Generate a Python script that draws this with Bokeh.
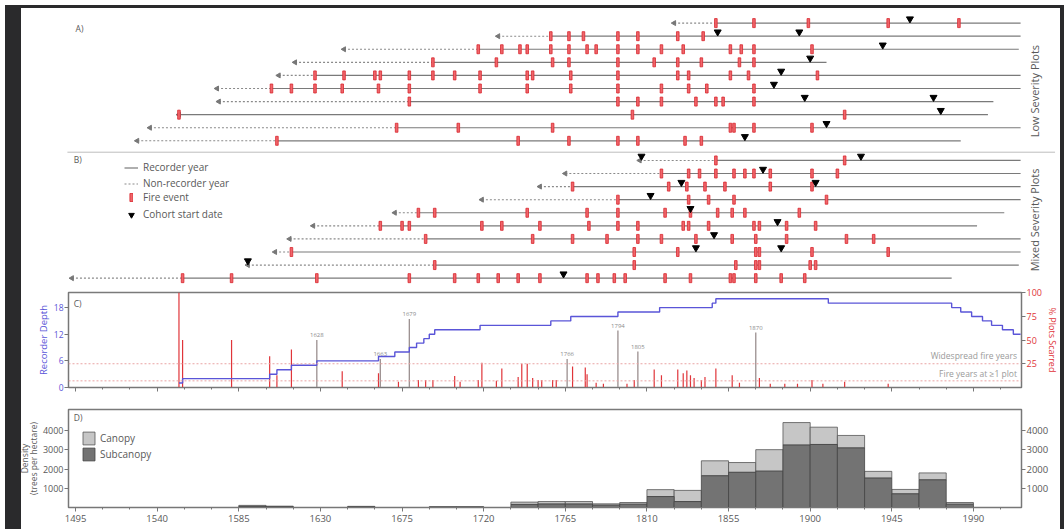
import math
from bokeh.plotting import figure
from bokeh.models import (Range1d, LinearAxis, FixedTicker, Legend, LegendItem,
                          ColumnDataSource, Label, Span, Div)
from bokeh.layouts import column
from bokeh.embed import file_html
from bokeh.resources import INLINE
from bokeh.core.properties import value

# ---------------- data ----------------
tick_years = [1495, 1540, 1585, 1630, 1675, 1720, 1765, 1810, 1855, 1900, 1945, 1990]
minor_tick_years = [1510, 1525, 1555, 1570, 1600, 1615, 1645, 1660, 1690, 1705, 1735, 1750,
                    1780, 1795, 1825, 1840, 1870, 1885, 1915, 1930, 1960, 1975, 2005]

# Panel A (low severity plots), top to bottom
a_inner = [1825, 1728, 1643, 1616, 1607, 1573, 1574, 1552, 1536, 1529]
a_recorder = [1848, 1757, 1717, 1692, 1627, 1603, 1679, 1552, 1672, 1606]
a_outer = [2016, 2016, 2015, 1909, 2016, 2016, 2001, 1998, 2016, 1983]
a_fires = [
    [1848, 1869, 1899, 1943, 1982],
    [1757, 1767, 1775, 1794, 1805, 1827, 1841],
    [1717, 1730, 1740, 1744, 1757, 1767, 1777, 1782, 1794, 1805, 1818, 1830, 1856, 1862, 1869, 1901],
    [1692, 1727, 1758, 1767, 1794, 1814, 1827, 1840, 1861, 1869],
    [1627, 1643, 1660, 1663, 1679, 1692, 1704, 1718, 1744, 1747, 1768, 1794, 1827, 1833, 1856, 1866, 1904],
    [1603, 1614, 1627, 1642, 1662, 1679, 1718, 1744, 1768, 1794, 1818, 1833, 1843, 1869],
    [1679, 1794, 1805, 1818, 1837, 1848, 1852, 1869],
    [1552, 1802, 1919],
    [1672, 1706, 1758, 1856, 1858, 1869, 1901],
    [1606, 1739, 1767, 1794, 1805, 1831, 1840],
]
a_cohort = [[1955], [1849, 1894], [1940], [1900], [1884], [1880], [1897, 1968], [1972], [1909], [1864]]

# Panel B (mixed severity plots), top to bottom
b_inner = [1806, 1765, 1751, 1719, 1671, 1626, 1613, 1605, 1590, 1493]
b_recorder = [1848, 1818, 1769, 1794, 1684, 1663, 1688, 1614, 1693, 1554]
b_outer = [2016, 2016, 2016, 2016, 2007, 1992, 2016, 2016, 2015, 1978]
b_fires = [
    [1848, 1919],
    [1818, 1833, 1839, 1848, 1858, 1864, 1869, 1878, 1901, 1915],
    [1769, 1822, 1832, 1842, 1853, 1878, 1901],
    [1794, 1833, 1844, 1858, 1909],
    [1684, 1693, 1744, 1777, 1794, 1820, 1834, 1849, 1857, 1864, 1894],
    [1663, 1675, 1679, 1719, 1730, 1751, 1778, 1794, 1805, 1830, 1833, 1844, 1869, 1872, 1887, 1903],
    [1688, 1747, 1769, 1788, 1805, 1818, 1837, 1857, 1870, 1887, 1920, 1935],
    [1614, 1803, 1827, 1870, 1872, 1901, 1943],
    [1693, 1803, 1859, 1870, 1872, 1900, 1903],
    [1554, 1581, 1628, 1679, 1704, 1717, 1728, 1739, 1751, 1777, 1783, 1792, 1798, 1820, 1834,
     1856, 1858, 1870, 1884, 1897],
]
b_cohort = [[1807, 1928], [1874], [1829, 1903], [1812], [1834], [1882], [1847], [1837, 1884], [1590], [1764]]

# Panel C: recorder depth and percent of plots scarred
depth_years = [1552, 1554, 1602, 1606, 1614, 1628, 1662, 1671, 1679, 1683, 1687, 1690, 1693,
               1718, 1757, 1768, 1794, 1817, 1846, 1848, 1910, 1978, 1983, 1989, 1995, 2000,
               2006, 2012, 2016]
depth_values = [1, 2, 3, 4, 5, 6, 7, 8, 9, 10, 11, 12, 13, 14, 15, 16, 17, 18, 19, 20, 19,
                18, 17, 16, 15, 14, 13, 12, 12]
scar_years = [1552, 1554, 1581, 1602, 1606, 1614, 1642, 1662, 1673, 1684, 1688, 1692, 1704,
              1707, 1717, 1719, 1727, 1730, 1739, 1741, 1744, 1747, 1750, 1752, 1758, 1760,
              1769, 1776, 1777, 1782, 1786, 1799, 1803, 1814, 1818, 1827, 1830, 1832, 1834,
              1836, 1840, 1842, 1848, 1857, 1861, 1872, 1878, 1886, 1893, 1901, 1907, 1919, 1943]
scar_pct = [100, 50, 50, 33, 13, 40, 17, 15, 6, 8, 8, 8, 12,
            6, 8, 26, 7, 20, 11, 25, 25, 10, 8, 8, 8, 8,
            22, 21, 14, 5, 4, 4, 8, 19, 13, 19, 15, 18, 13,
            10, 8, 11, 20, 13, 5, 10, 4, 4, 4, 8, 4, 6, 4]
key_years = [1628, 1663, 1679, 1766, 1794, 1805, 1870]
key_pct = [50, 30, 72, 30, 60, 38, 58]
key_labels = ["1628", "1663", "1679", "1766", "1794", "1805", "1870"]
widespread_pct = 25
min_fire_pct = 7

# Panel D: tree establishment density (15-year bins)
bin_start = [1585, 1600, 1645, 1690, 1705, 1735, 1750, 1765, 1780, 1795, 1810, 1825, 1840,
             1855, 1870, 1885, 1900, 1915, 1930, 1945, 1960, 1975]
canopy_total = [110, 70, 60, 40, 40, 280, 310, 310, 190, 260, 930, 890, 2430,
                2340, 3010, 4420, 4180, 3750, 1880, 940, 1800, 260]
subcanopy = [60, 40, 30, 20, 20, 160, 180, 180, 120, 170, 570, 310, 1650,
             1830, 1890, 3250, 3280, 3100, 1530, 710, 1440, 170]
bin_width = 15

# ---------------- styling / layout ----------------
FONT = "Open Sans"
TXT = "#595959"
RED = "#e0353a"
BLUE = "#5a55d8"
GRAY_LINE = "#8a8a8a"
LB = 68
RB = 40
FRAME_W = 953
X0, X1 = 1491.1, 2016.5
PPY = FRAME_W / (X1 - X0)
X_RANGE = Range1d(X0, X1)
AB_H = 284


def base_fig(height, frame_h, top, bottom, **kw):
    p = figure(frame_width=FRAME_W, frame_height=frame_h, height=height,
               x_range=X_RANGE, min_border_left=LB, min_border_right=RB,
               min_border_top=top, min_border_bottom=bottom,
               toolbar_location=None, output_backend="svg", **kw)
    p.grid.visible = False
    return p


# ---------------- panels A and B ----------------
pab = figure(width=LB + FRAME_W + RB, height=AB_H,
             x_range=Range1d(X0 - LB / PPY, X1 + RB / PPY),
             y_range=Range1d(19.985, -1.728), x_axis_type=None, y_axis_type=None,
             min_border=0, toolbar_location=None, output_backend="svg")
pab.frame_align = False
pab.outline_line_color = None
pab.grid.visible = False

rows_inner = a_inner + b_inner
rows_rec = a_recorder + b_recorder
rows_outer = a_outer + b_outer
rows_fires = a_fires + b_fires
rows_cohort = a_cohort + b_cohort
row_pos = list(range(10)) + [10.5 + k for k in range(10)]

nr = dict(x0=[], x1=[], y=[])
rc = dict(x0=[], x1=[], y=[])
fx, fy, cx, cy = [], [], [], []
for i, yv in enumerate(row_pos):
    if rows_inner[i] < rows_rec[i]:
        nr["x0"].append(rows_inner[i]); nr["x1"].append(rows_rec[i]); nr["y"].append(yv)
    rc["x0"].append(rows_rec[i]); rc["x1"].append(rows_outer[i]); rc["y"].append(yv)
    for f in rows_fires[i]:
        fx.append(f); fy.append(yv)
    for c in rows_cohort[i]:
        cx.append(c); cy.append(yv - 0.32)

r_nonrec = pab.segment(x0="x0", x1="x1", y0="y", y1="y", source=ColumnDataSource(nr),
                       line_color=GRAY_LINE, line_width=1.1, line_dash="2 2")
r_rec = pab.segment(x0="x0", x1="x1", y0="y", y1="y", source=ColumnDataSource(rc),
                    line_color="#7a7a7a", line_width=1.2)
pab.scatter(x=rows_inner, y=row_pos, marker="triangle", angle=math.pi / 2, size=5,
            fill_color="#777777", line_color="#777777")
r_fire = pab.rect(x=fx, y=fy, width=2.6, height=9, width_units="screen",
                  height_units="screen", fill_color="#ee666b", line_color="#d9262d",
                  line_width=0.8)
r_coh = pab.scatter(x=cx, y=cy, marker="inverted_triangle", size=7,
                    fill_color="black", line_color="black")

pab.segment(x0=[1490.5], x1=[2035], y0=[9.87], y1=[9.87], line_color="#bdbdbd", line_width=1)

for txt, xx, yy in [("A)", 1495, 0.38), ("B)", 1494, 10.41)]:
    pab.add_layout(Label(x=xx, y=yy, text=txt, text_font=FONT, text_font_size="8.5px",
                         text_color=TXT, text_baseline="middle"))
for txt, yy in [("Low Severity Plots", 5.2), ("Mixed Severity Plots", 15.05)]:
    pab.add_layout(Label(x=2023.5, y=yy, text=txt, angle=math.pi / 2, text_font=FONT,
                         text_font_size="11px", text_color=TXT, text_align="center",
                         text_baseline="middle"))

LEG_FONT = "10px"
leg_kw = dict(padding=0, margin=0, border_line_alpha=0, background_fill_alpha=0,
              label_text_font=FONT, label_text_font_size=LEG_FONT, label_text_color=TXT,
              label_text_baseline="middle")
# legend rows (centres at page y 167.4, 183, 198.4, 214; glyph column at x 124-138)
leg_lines = Legend(items=[LegendItem(label="Recorder year", renderers=[r_rec]),
                          LegendItem(label="Non-recorder year", renderers=[r_nonrec])],
                   location=(124, AB_H - 190.5), glyph_height=15, glyph_width=14,
                   label_height=15, label_standoff=5, spacing=1, **leg_kw)
leg_fire = Legend(items=[LegendItem(label="Fire event", renderers=[r_fire])],
                  location=(129, AB_H - 203.6), glyph_height=10, glyph_width=4,
                  label_height=10, label_standoff=10, spacing=0, **leg_kw)
leg_coh = Legend(items=[LegendItem(label="Cohort start date", renderers=[r_coh])],
                 location=(124, AB_H - 221.5), glyph_height=15, glyph_width=14,
                 label_height=15, label_standoff=5, spacing=0, **leg_kw)
for lg in (leg_lines, leg_fire, leg_coh):
    pab.add_layout(lg)


# ---------------- panel C ----------------
def style_axis(ax, color=TXT):
    ax.axis_line_color = "#777777"
    ax.major_tick_line_color = "#777777"
    ax.minor_tick_line_color = "#777777"
    ax.major_tick_out = 4
    ax.major_tick_in = 0
    ax.minor_tick_out = 2
    ax.minor_tick_in = 0
    ax.major_label_text_font = FONT
    ax.major_label_text_font_size = "9px"
    ax.major_label_text_color = color
    ax.axis_label_text_font = FONT
    ax.axis_label_text_font_size = "9.5px"
    ax.axis_label_text_font_style = "normal"
    ax.axis_label_text_color = color
    ax.major_label_standoff = 1
    ax.axis_label_standoff = 1


pc = base_fig(117, 95, 8, 14, y_range=Range1d(0, 21.4))
pc.outline_line_color = "#7a7a7a"
pc.outline_line_width = 1.5
pc.extra_y_ranges = {"pct": Range1d(0, 100)}

pc.xaxis.ticker = FixedTicker(ticks=tick_years, minor_ticks=minor_tick_years)
style_axis(pc.xaxis[0])
pc.xaxis.major_label_overrides = {t: "" for t in tick_years}
pc.xaxis.major_label_standoff = 0
pc.yaxis.ticker = FixedTicker(ticks=[0, 6, 12, 18])
style_axis(pc.yaxis[0], BLUE)
pc.yaxis.major_label_text_font_size = "8.5px"
pc.yaxis.axis_label = "Recorder Depth"
ax_pct = LinearAxis(y_range_name="pct", ticker=FixedTicker(ticks=[25, 50, 75, 100]),
                    axis_label="% Plots Scarred")
style_axis(ax_pct, RED)
ax_pct.axis_label_text_font_size = "9px"
pc.add_layout(ax_pct, "right")

pc.add_layout(Span(location=widespread_pct, dimension="width", y_range_name="pct",
                   line_color="#e9a3a3", line_dash="2 2", line_width=1))
pc.add_layout(Span(location=min_fire_pct, dimension="width", y_range_name="pct",
                   line_color="#e9a3a3", line_dash="2 2", line_width=1))
pc.segment(x0=scar_years, x1=scar_years, y0=0, y1=scar_pct, y_range_name="pct",
           line_color=RED, line_width=1.2)
pc.segment(x0=key_years, x1=key_years, y0=0, y1=key_pct, y_range_name="pct",
           line_color="#9b8f8f", line_width=1.3)
pc.text(x=key_years, y=[v + 3 for v in key_pct], text=key_labels, y_range_name="pct",
        text_font=value(FONT), text_font_size="6px", text_color="#8c8c8c",
        text_align="center", text_baseline="bottom")
pc.step(x=depth_years, y=depth_values, mode="after", line_color=BLUE, line_width=1.4)
pc.text(x=[2014, 2014], y=[widespread_pct + 3, min_fire_pct + 2],
        text=["Widespread fire years", "Fire years at \u22651 plot"], y_range_name="pct",
        text_font=value(FONT), text_font_size="8.5px", text_color="#9a9a9a",
        text_align="right", text_baseline="bottom")
pc.add_layout(Label(x=1494, y=19.0, text="C)", text_font=FONT, text_font_size="8.5px",
                    text_color=TXT, text_baseline="middle"))

# ---------------- panel D ----------------
pd_ = base_fig(128, 98, 8, 22, y_range=Range1d(0, 5100))
pd_.outline_line_color = "#7a7a7a"
pd_.outline_line_width = 1.5
pd_.xaxis.ticker = FixedTicker(ticks=tick_years, minor_ticks=minor_tick_years)
style_axis(pd_.xaxis[0])
pd_.xaxis.major_label_text_font_size = "9.5px"
pd_.xaxis.major_label_standoff = 3
pd_.yaxis.ticker = FixedTicker(ticks=[1000, 2000, 3000, 4000])
style_axis(pd_.yaxis[0])
pd_.yaxis.major_label_text_font_size = "9px"
pd_.yaxis.axis_label = "Density\n(trees per hectare)"
pd_.yaxis.axis_label_text_font_size = "8.5px"
pd_.yaxis.axis_label_text_line_height = 0.85
pd_.yaxis.axis_label_standoff = 1
ax_r = LinearAxis(ticker=FixedTicker(ticks=[1000, 2000, 3000, 4000]))
style_axis(ax_r)
ax_r.major_label_text_font_size = "9.5px"
pd_.add_layout(ax_r, "right")

left = bin_start
right = [b + bin_width for b in bin_start]
r_can = pd_.quad(left=left, right=right, bottom=subcanopy, top=canopy_total,
                 fill_color="#c6c6c6", line_color="#555555", line_width=0.8)
r_sub = pd_.quad(left=left, right=right, bottom=0, top=subcanopy,
                 fill_color="#737373", line_color="#444444", line_width=0.8)
leg_d = Legend(items=[LegendItem(label="Canopy", renderers=[r_can]),
                      LegendItem(label="Subcanopy", renderers=[r_sub])],
               location=(13, 45), glyph_height=16, glyph_width=15, label_standoff=4,
               spacing=0, padding=0, margin=0, border_line_alpha=0,
               background_fill_alpha=0, label_text_font=FONT, label_text_font_size="10px",
               label_text_color=TXT, label_height=16)
pd_.add_layout(leg_d)
pd_.add_layout(Label(x=1494, y=4700, text="D)", text_font=FONT, text_font_size="8.5px",
                     text_color=TXT, text_baseline="middle"))

DARK = "#2a2a2c"


def shade(l, t, w, h):
    return Div(text="", width=1, height=1,
               styles={"position": "fixed", "left": f"{l}px", "top": f"{t}px",
                       "width": f"{w}px", "height": f"{h}px",
                       "background-color": DARK, "z-index": "10"})


layout = column(shade(0, 0, 16, 529), shade(1055, 0, 9, 529), shade(0, 0, 1064, 3),
                pab, pc, pd_)
open("out.html", "w").write(file_html(layout, INLINE))
